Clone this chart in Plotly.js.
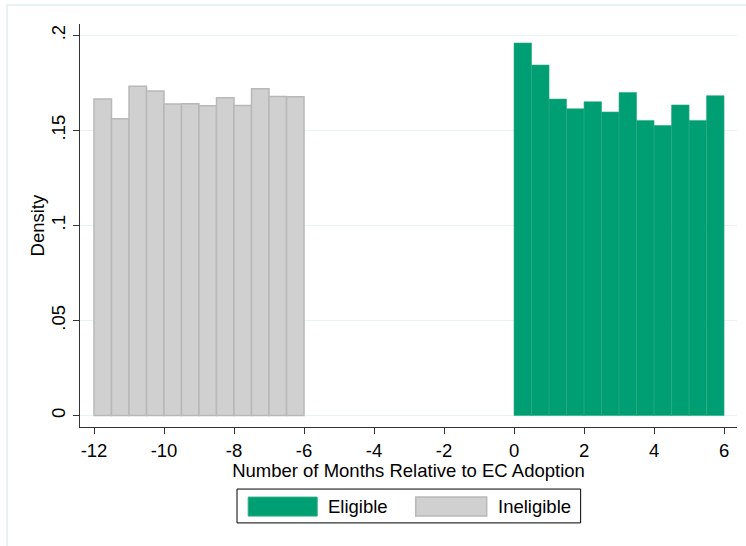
<!DOCTYPE html>
<html>
<head>
<meta charset="utf-8">
<script src="https://cdn.plot.ly/plotly-3.0.1.min.js"></script>
<style>
  html, body { margin: 0; padding: 0; background: #fff; }
  #plot { width: 746px; height: 546px; }
</style>
</head>
<body>
<div id="plot"></div>
<script>
// half-month bins, centres
var ineligibleMonths = [-11.75, -11.25, -10.75, -10.25, -9.75, -9.25, -8.75, -8.25, -7.75, -7.25, -6.75, -6.25];
var ineligibleDensity = [0.1665, 0.1561, 0.1732, 0.1707, 0.1639, 0.1640, 0.1630, 0.1672, 0.1631, 0.1720, 0.1679, 0.1677];

var eligibleMonths = [0.25, 0.75, 1.25, 1.75, 2.25, 2.75, 3.25, 3.75, 4.25, 4.75, 5.25, 5.75];
var eligibleDensity = [0.1960, 0.1844, 0.1665, 0.1614, 0.1651, 0.1597, 0.1700, 0.1553, 0.1526, 0.1634, 0.1553, 0.1683];

var xTicks = [-12, -10, -8, -6, -4, -2, 0, 2, 4, 6];
var xTickText = ['-12', '-10', '-8', '-6', '-4', '-2', '0', '2', '4', '6'];
var yTicks = [0, 0.05, 0.1, 0.15, 0.2];
var yTickText = ['0', '.05', '.1', '.15', '.2'];

var green = 'rgb(0,159,115)';
var grey = 'rgb(208,208,208)';

var traces = [
    {
        x: ineligibleMonths,
        y: ineligibleDensity,
        type: 'bar',
        width: 0.5,
        name: 'Ineligible',
        marker: { color: grey, line: { color: 'rgb(184,184,184)', width: 1.5 } },
        showlegend: false,
        hoverinfo: 'x+y'
    },
    {
        x: eligibleMonths,
        y: eligibleDensity,
        type: 'bar',
        width: 0.5,
        name: 'Eligible',
        marker: { color: green, line: { color: 'rgb(40,170,130)', width: 0.6 } },
        showlegend: false,
        hoverinfo: 'x+y'
    }
];

var font = { family: 'Liberation Sans, Arial, sans-serif', size: 18.5, color: '#000' };

// legend drawn by hand so the swatches get Stata's wide keys
var legendShapes = [
    { type: 'rect', xref: 'paper', yref: 'paper', x0: 0.239, x1: 0.762, y0: -0.238, y1: -0.154,
      line: { color: '#000', width: 1 }, fillcolor: '#fff' },
    { type: 'rect', xref: 'paper', yref: 'paper', x0: 0.256, x1: 0.361, y0: -0.221, y1: -0.174,
      line: { color: 'rgb(40,170,130)', width: 1 }, fillcolor: green },
    { type: 'rect', xref: 'paper', yref: 'paper', x0: 0.511, x1: 0.619, y0: -0.221, y1: -0.174,
      line: { color: 'rgb(184,184,184)', width: 1.5 }, fillcolor: grey },
    // outer graph region border
    { type: 'rect', xref: 'paper', yref: 'paper', x0: -0.111, x1: 1.05, y0: -0.30, y1: 1.047,
      line: { color: 'rgb(228,237,240)', width: 1.5 }, fillcolor: 'rgba(0,0,0,0)', layer: 'below' }
];

var legendText = [
    { xref: 'paper', yref: 'paper', x: 0.374, y: -0.197, text: 'Eligible', showarrow: false,
      xanchor: 'left', yanchor: 'middle', font: font },
    { xref: 'paper', yref: 'paper', x: 0.633, y: -0.197, text: 'Ineligible', showarrow: false,
      xanchor: 'left', yanchor: 'middle', font: font },
    // y title placed by hand, Stata keeps it close to the tick labels
    { xref: 'paper', yref: 'paper', x: -0.064, y: 0.5, text: 'Density', showarrow: false,
      textangle: -90, xanchor: 'center', yanchor: 'middle', font: font }
];

var layout = {
    width: 746,
    height: 546,
    margin: { l: 80, r: 9, t: 24, b: 119 },
    paper_bgcolor: '#fff',
    plot_bgcolor: '#fff',
    font: font,
    bargap: 0,
    showlegend: false,
    xaxis: {
        range: [-12.4, 6.37],
        tickvals: xTicks,
        ticktext: xTickText,
        ticks: 'outside',
        ticklen: 6,
        tickcolor: '#333',
        showline: true,
        linecolor: '#333',
        linewidth: 1.3,
        showgrid: false,
        zeroline: false,
        tickfont: font,
        title: { text: 'Number of Months Relative to EC Adoption', font: font, standoff: 0 }
    },
    yaxis: {
        range: [-0.006, 0.206],
        tickvals: yTicks,
        ticktext: yTickText,
        tickangle: -90,
        ticks: 'outside',
        ticklen: 6,
        tickcolor: '#333',
        showline: true,
        linecolor: '#333',
        linewidth: 1.3,
        showgrid: true,
        gridcolor: 'rgb(234,242,243)',
        gridwidth: 1.2,
        zeroline: false,
        tickfont: font
    },
    shapes: legendShapes,
    annotations: legendText
};

Plotly.newPlot('plot', traces, layout, { displayModeBar: false, staticPlot: true });
</script>
</body>
</html>
